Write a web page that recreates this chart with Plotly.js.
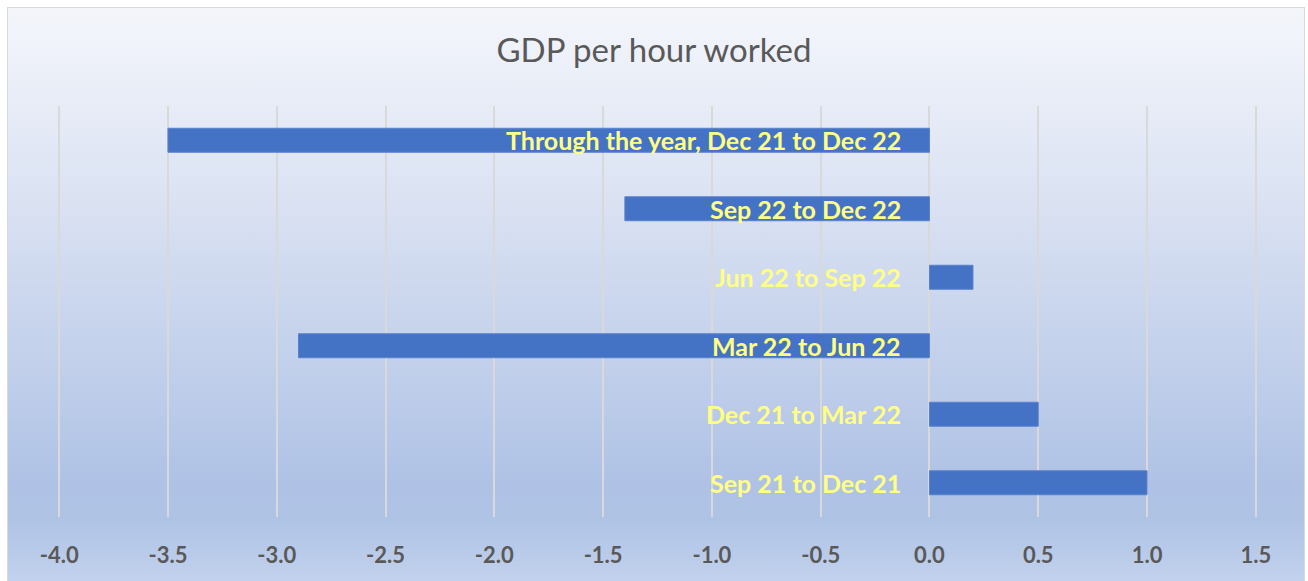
<!DOCTYPE html>
<html>
<head>
<meta charset="utf-8">
<script src="https://cdn.plot.ly/plotly-3.0.1.min.js"></script>
<style>
  html, body { margin: 0; padding: 0; background: #ffffff; }
  #wrap { position: relative; width: 1308px; height: 581px; overflow: hidden; }
  #bg {
    position: absolute; left: 7px; top: 7px; width: 1296px; height: 580px;
    border: 1px solid #D9D9D9;
    background: linear-gradient(to bottom, #F4F6FB 0%, #D9E1F2 35%, #AFC2E5 82%, #AFC3E5 88%, #C4D3EE 100%);
  }
  #chart { position: absolute; left: 0; top: 0; width: 1308px; height: 581px; }
</style>
</head>
<body>
<div id="wrap">
  <div id="bg"></div>
  <div id="chart"></div>
</div>
<script>
// Categories listed bottom-to-top (Plotly draws first category at the bottom)
const categories = [
  "Sep 21 to Dec 21",
  "Dec 21 to Mar 22",
  "Mar 22 to Jun 22",
  "Jun 22 to Sep 22",
  "Sep 22 to Dec 22",
  "Through the year, Dec 21 to Dec 22"
];
const values = [1.0, 0.5, -2.9, 0.2, -1.4, -3.5];
const tickValues = [-4.0, -3.5, -3.0, -2.5, -2.0, -1.5, -1.0, -0.5, 0.0, 0.5, 1.0, 1.5];
const tickLabels = ["-4.0", "-3.5", "-3.0", "-2.5", "-2.0", "-1.5", "-1.0", "-0.5", "0.0", "0.5", "1.0", "1.5"];
const chartTitle = "GDP per hour worked";

const trace = {
  type: "bar",
  orientation: "h",
  x: values,
  y: categories,
  marker: { color: "#4472C4", line: { color: "#5A82CC", width: 1 } },
  hoverinfo: "x+y"
};

const annotations = categories.map(c => ({
  x: 0, y: c, xref: "x", yref: "y",
  text: "<b>" + c + "</b>",
  showarrow: false,
  xanchor: "right",
  yanchor: "middle",
  xshift: -26,
  font: { family: "Lato, 'Open Sans', sans-serif", size: 25, color: "#FFFF85" }
}));

const layout = {
  width: 1308,
  height: 581,
  margin: { l: 57, r: 50, t: 106, b: 64 },
  paper_bgcolor: "rgba(0,0,0,0)",
  plot_bgcolor: "rgba(0,0,0,0)",
  showlegend: false,
  bargap: 0.65,
  title: {
    text: chartTitle,
    x: 0.5, xanchor: "center",
    y: 0.913, yanchor: "middle",
    font: { family: "Lato, 'Open Sans', sans-serif", size: 33, color: "#595959" }
  },
  xaxis: {
    range: [-4.01, 1.51],
    tickvals: tickValues,
    ticktext: tickLabels,
    showgrid: true,
    gridcolor: "#D9D9D9",
    gridwidth: 2,
    zeroline: true,
    zerolinecolor: "#D9D9D9",
    zerolinewidth: 2,
    showline: false,
    ticks: "outside",
    ticklen: 19,
    tickcolor: "rgba(0,0,0,0)",
    tickfont: { family: "Lato, 'Open Sans', sans-serif", size: 22, color: "#595959", weight: "bold" },
    fixedrange: true
  },
  yaxis: {
    type: "category",
    showticklabels: false,
    showgrid: false,
    zeroline: false,
    showline: false,
    ticks: "",
    range: [-0.5, 5.5],
    fixedrange: true
  },
  annotations: annotations
};

Plotly.newPlot("chart", [trace], layout, { displayModeBar: false, staticPlot: true });
</script>
</body>
</html>
